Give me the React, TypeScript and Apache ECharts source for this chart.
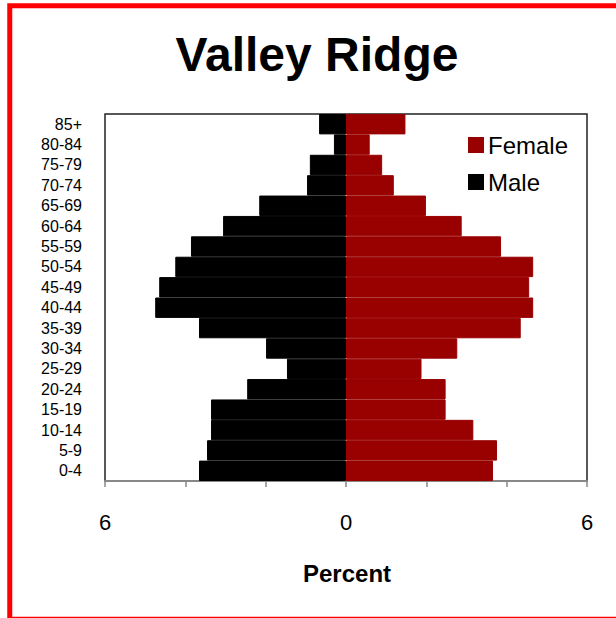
import React, { useEffect, useRef } from "react";
import * as echarts from "echarts";

const categories = ["0-4", "5-9", "10-14", "15-19", "20-24", "25-29", "30-34", "35-39", "40-44", "45-49", "50-54", "55-59", "60-64", "65-69", "70-74", "75-79", "80-84", "85+"];
const maleValues = [3.66, 3.46, 3.36, 3.36, 2.46, 1.47, 1.99, 3.66, 4.75, 4.65, 4.25, 3.86, 3.06, 2.16, 0.97, 0.9, 0.3, 0.67];
const femaleValues = [3.66, 3.76, 3.17, 2.48, 2.48, 1.88, 2.77, 4.35, 4.66, 4.56, 4.66, 3.86, 2.88, 1.99, 1.19, 0.9, 0.59, 1.48];
const xTickLabels = [-6, 0, 6];

export default function App() {
  const ref = useRef<HTMLDivElement>(null);
  useEffect(() => {
    if (!ref.current) return;
    const chart = echarts.init(ref.current, null, { renderer: "svg" });
    const font = "Arial, 'Liberation Sans', Helvetica, sans-serif";
    chart.setOption({
      animation: false,
      backgroundColor: "#ffffff",
      textStyle: { fontFamily: font },
      graphic: [
        {
          type: "rect",
          shape: { x: 9.75, y: 5.75, width: 700, height: 613.5 },
          style: { fill: "none", stroke: "#ff0000", lineWidth: 5 },
          silent: true,
        },
        {
          type: "text",
          x: 317,
          y: 54,
          style: {
            text: "Valley Ridge",
            font: `bold 48px ${font}`,
            fill: "#000",
            textAlign: "center",
            textVerticalAlign: "middle",
          },
        },
        {
          type: "text",
          x: 347,
          y: 573,
          style: {
            text: "Percent",
            font: `bold 24px ${font}`,
            fill: "#000",
            textAlign: "center",
            textVerticalAlign: "middle",
          },
        },
      ],
      legend: {
        data: ["Female", "Male"],
        orient: "vertical",
        left: 468,
        top: 133,
        padding: 0,
        itemWidth: 14,
        itemHeight: 14,
        itemGap: 13,
        icon: "rect",
        textStyle: { fontSize: 24, color: "#000", fontFamily: font },
      },
      grid: {
        left: 105,
        right: 29,
        top: 114,
        bottom: 137,
        show: true,
        borderColor: "#222",
        borderWidth: 1.5,
        backgroundColor: "transparent",
      },
      xAxis: {
        type: "value",
        min: -6,
        max: 6,
        interval: 2,
        splitLine: { show: false },
        axisLine: { show: true, lineStyle: { color: "#888", width: 2 } },
        axisTick: { show: true, length: 6, lineStyle: { color: "#888", width: 1.5 } },
        axisLabel: {
          fontSize: 22,
          color: "#000",
          margin: 30,
          formatter: (v: number) => (xTickLabels.includes(v) ? String(Math.abs(v)) : ""),
        },
      },
      yAxis: {
        type: "category",
        data: categories,
        axisLine: { show: false },
        axisTick: { show: false },
        axisLabel: { fontSize: 16, color: "#000", margin: 23, interval: 0 },
      },
      series: [
        {
          name: "Male",
          type: "bar",
          data: maleValues.map((v) => -v),
          itemStyle: { color: "#000000", borderColor: "#000000", borderWidth: 1 },
          barCategoryGap: "0%",
          barGap: "-100%",
        },
        {
          name: "Female",
          type: "bar",
          data: femaleValues,
          itemStyle: { color: "#990000", borderColor: "#990000", borderWidth: 1 },
          barCategoryGap: "0%",
          barGap: "-100%",
        },
      ],
    });
    return () => chart.dispose();
  }, []);
  return (
    <div
      ref={ref}
      style={{ position: "fixed", left: 0, top: 0, width: 616, height: 618 }}
    />
  );
}
